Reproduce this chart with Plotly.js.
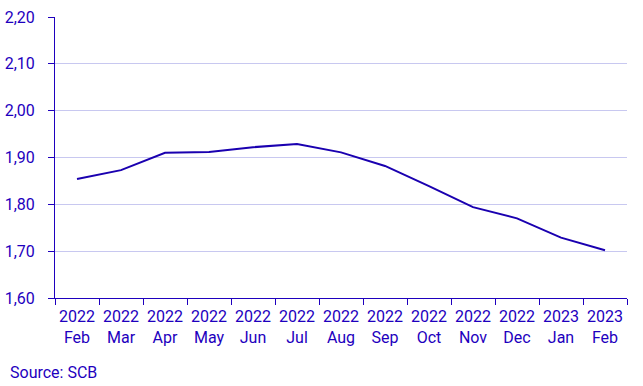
<!DOCTYPE html>
<html><head><meta charset="utf-8">
<script src="https://cdn.plot.ly/plotly-3.0.1.min.js"></script>
<style>html,body{margin:0;padding:0;background:#fff}#c{width:643px;height:386px}</style>
</head><body><div id="c"></div>
<script>
const categories = ["2022<br>Feb","2022<br>Mar","2022<br>Apr","2022<br>May","2022<br>Jun","2022<br>Jul","2022<br>Aug","2022<br>Sep","2022<br>Oct","2022<br>Nov","2022<br>Dec","2023<br>Jan","2023<br>Feb"];
const values = [1.854,1.873,1.910,1.912,1.922,1.929,1.911,1.882,1.839,1.794,1.770,1.729,1.702];
const yTicks = [1.6,1.7,1.8,1.9,2.0,2.1,2.2];
const blue = "#1e00be";
Plotly.newPlot("c",[{
  x: categories, y: values, type: "scatter", mode: "lines",
  line: {color: "#1a00b0", width: 2}, hoverinfo: "none"
}],{
  width: 643, height: 386,
  margin: {l:55, r:16, t:17, b:88},
  paper_bgcolor: "#fff", plot_bgcolor: "#fff",
  separators: ",.",
  font: {family: "Roboto, sans-serif", size: 16, color: blue},
  showlegend: false,
  xaxis: {type: "category", range: [-0.5, 12.5], tickson: "boundaries", ticks: "outside", ticklen: 6, tickcolor: blue,
    tickangle: 0, ticklabelstandoff: 4,
    showline: true, linecolor: blue, linewidth: 1, showgrid: false, zeroline: false,
    tickfont: {size: 16, color: blue}, fixedrange: true},
  yaxis: {range: [1.6, 2.2], tickvals: yTicks, tickformat: ".2f", ticks: "outside", ticklen: 6, tickcolor: blue,
    ticklabelstandoff: 10,
    showline: true, linecolor: blue, linewidth: 1, showgrid: true, gridcolor: "#c8c8f0", gridwidth: 1,
    zeroline: false, tickfont: {size: 16, color: blue}, fixedrange: true},
  annotations: [{text: "Source: SCB", xref: "paper", yref: "paper", x: -47/572, y: -74/281, xanchor: "left", yanchor: "middle",
    showarrow: false, font: {size: 16, color: blue}}]
},{staticPlot: true});
</script></body></html>
